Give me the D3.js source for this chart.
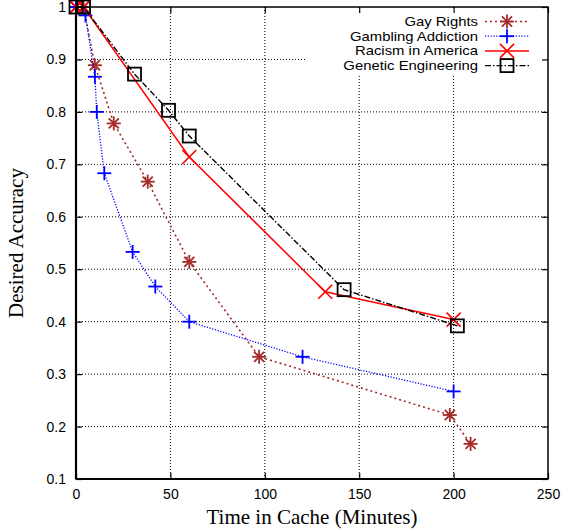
<!DOCTYPE html>
<html><head><meta charset="utf-8">
<script src="https://cdn.jsdelivr.net/npm/d3@7"></script>
<style>body{margin:0;background:#fff}</style>
</head><body>
<script>
const xTicks = [0, 50, 100, 150, 200, 250];
const yTicks = [0.1, 0.2, 0.3, 0.4, 0.5, 0.6, 0.7, 0.8, 0.9, 1];
const seriesNames = ["Gay Rights", "Gambling Addiction", "Racism in America", "Genetic Engineering"];
const gayRights = [[0,1],[4,1],[10,0.889],[20,0.778],[38,0.667],[60,0.514],[97,0.333],[198,0.222],[209,0.167]];
const gambling = [[0,1],[5,0.984],[10,0.867],[11,0.8],[15,0.683],[30,0.533],[42,0.467],[60,0.4],[120,0.333],[200,0.267]];
const racism = [[0,1],[4,1],[60,0.714],[132,0.457],[200,0.404]];
const genetic = [[0,1],[4,1],[31,0.872],[49,0.803],[60,0.754],[142,0.461],[202,0.392]];

const W = 564, H = 531;
const m = {l: 76, r: 16, t: 7, b: 52};
const svg = d3.select("body").append("svg").attr("width", W).attr("height", H);
const x = d3.scaleLinear().domain([0, 250]).range([m.l, W - m.r]);
const y = d3.scaleLinear().domain([0.1, 1]).range([H - m.b, m.t]);

const series = [
  {name: seriesNames[0], data: gayRights, color: "#a52a2a", dash: "2,3", w: 1.6, marker: "star"},
  {name: seriesNames[1], data: gambling, color: "#0000ff", dash: "1.2,1.6", w: 1.3, marker: "plus"},
  {name: seriesNames[2], data: racism, color: "#ff0000", dash: null, w: 1.5, marker: "cross"},
  {name: seriesNames[3], data: genetic, color: "#000000", dash: "6,2,1.5,2", w: 1.4, marker: "square"}
];

// grid
const g = svg.append("g");
xTicks.slice(1, -1).forEach(t => g.append("line").attr("x1", x(t)).attr("x2", x(t)).attr("y1", y(0.1)).attr("y2", y(1))
  .attr("stroke", "#000").attr("stroke-width", 1).attr("stroke-dasharray", "1,2"));
yTicks.slice(1, -1).forEach(t => g.append("line").attr("x1", x(0)).attr("x2", x(250)).attr("y1", y(t)).attr("y2", y(t))
  .attr("stroke", "#000").attr("stroke-width", 1).attr("stroke-dasharray", "1,2"));

function marker(sel, type, cx, cy, color) {
  const s = sel.append("g").attr("transform", `translate(${cx},${cy})`).attr("stroke", color).attr("fill", "none");
  if (type === "star") {
    const r = 7;
    [[-r,0,r,0],[0,-r,0,r],[-r*0.72,-r*0.72,r*0.72,r*0.72],[-r*0.72,r*0.72,r*0.72,-r*0.72]].forEach(a =>
      s.append("line").attr("x1",a[0]).attr("y1",a[1]).attr("x2",a[2]).attr("y2",a[3]).attr("stroke-width",1.8));
  } else if (type === "plus") {
    const r = 7;
    [[-r,0,r,0],[0,-r,0,r]].forEach(a =>
      s.append("line").attr("x1",a[0]).attr("y1",a[1]).attr("x2",a[2]).attr("y2",a[3]).attr("stroke-width",1.8));
  } else if (type === "cross") {
    const r = 7;
    [[-r,-r,r,r],[-r,r,r,-r]].forEach(a =>
      s.append("line").attr("x1",a[0]).attr("y1",a[1]).attr("x2",a[2]).attr("y2",a[3]).attr("stroke-width",1.6));
  } else {
    s.append("rect").attr("x",-6.5).attr("y",-6.5).attr("width",13).attr("height",13).attr("stroke-width",1.8);
  }
}

const line = d3.line().x(d => x(d[0])).y(d => y(d[1]));
const plot = svg.append("g");
series.forEach(sr => {
  plot.append("path").datum(sr.data).attr("d", line).attr("fill", "none").attr("stroke", sr.color)
    .attr("stroke-width", sr.w).attr("stroke-dasharray", sr.dash);
  sr.data.forEach(d => marker(plot, sr.marker, x(d[0]), y(d[1]), sr.color));
});

// legend
const lg = svg.append("g");
lg.append("rect").attr("x", 307).attr("y", 9).attr("width", 238).attr("height", 65).attr("fill", "#fff");
series.forEach((sr, i) => {
  const yy = 21.5 + i * 14.7;
  const t = lg.append("text").attr("x", 478).attr("y", yy).attr("dy", "0.35em").attr("text-anchor", "end")
    .attr("font-family", "Liberation Sans, Arial, sans-serif").attr("font-size", 12.6).text(sr.name);
  const len = t.node().getComputedTextLength();
  t.attr("textLength", len * 1.18).attr("lengthAdjust", "spacingAndGlyphs");
  lg.append("line").attr("x1", 485).attr("x2", 529).attr("y1", yy).attr("y2", yy).attr("stroke", sr.color)
    .attr("stroke-width", sr.w).attr("stroke-dasharray", sr.dash);
  marker(lg, sr.marker, 507, yy, sr.color);
});

// axes frame
const ax = svg.append("g");
const xB = d3.axisBottom(x).tickValues(xTicks).tickSize(-6).tickPadding(10).tickFormat(d3.format("d"));
const xT = d3.axisTop(x).tickValues(xTicks).tickSize(-6).tickFormat("");
const yL = d3.axisLeft(y).tickValues(yTicks).tickSize(-6).tickPadding(10).tickFormat(d => d === 1 ? "1" : d3.format(".1f")(d));
const yR = d3.axisRight(y).tickValues(yTicks).tickSize(-6).tickFormat("");
[[xB, `translate(0,${y(0.1)})`],[xT, `translate(0,${y(1)})`],[yL, `translate(${x(0)},0)`],[yR, `translate(${x(250)},0)`]].forEach(([a, tr]) => {
  const gg = ax.append("g").attr("transform", tr).call(a);
  gg.select(".domain").remove();
  gg.selectAll("line").attr("stroke", "#000").attr("stroke-width", 1.2);
  gg.selectAll("text").attr("font-family", "Liberation Sans, Arial, sans-serif").attr("font-size", 14).attr("fill", "#000");
});
ax.append("rect").attr("x", x(0)).attr("y", y(1)).attr("width", x(250) - x(0)).attr("height", y(0.1) - y(1))
  .attr("fill", "none").attr("stroke", "#000").attr("stroke-width", 1.5);
ax.append("line").attr("x1", x(0)).attr("x2", x(0)).attr("y1", y(1)).attr("y2", y(0.1)).attr("stroke", "#000").attr("stroke-width", 2.2);
ax.append("line").attr("x1", x(0)).attr("x2", x(250)).attr("y1", y(0.1)).attr("y2", y(0.1)).attr("stroke", "#000").attr("stroke-width", 2.2);

svg.append("text").attr("x", (x(0) + x(250)) / 2).attr("y", 524).attr("text-anchor", "middle")
  .attr("font-family", "Liberation Serif, Times New Roman, serif").attr("font-size", 21).text("Time in Cache (Minutes)");
svg.append("text").attr("transform", `translate(23,${(y(1)+y(0.1))/2}) rotate(-90)`).attr("text-anchor", "middle")
  .attr("font-family", "Liberation Serif, Times New Roman, serif").attr("font-size", 21).text("Desired Accuracy");
</script>
</body></html>
